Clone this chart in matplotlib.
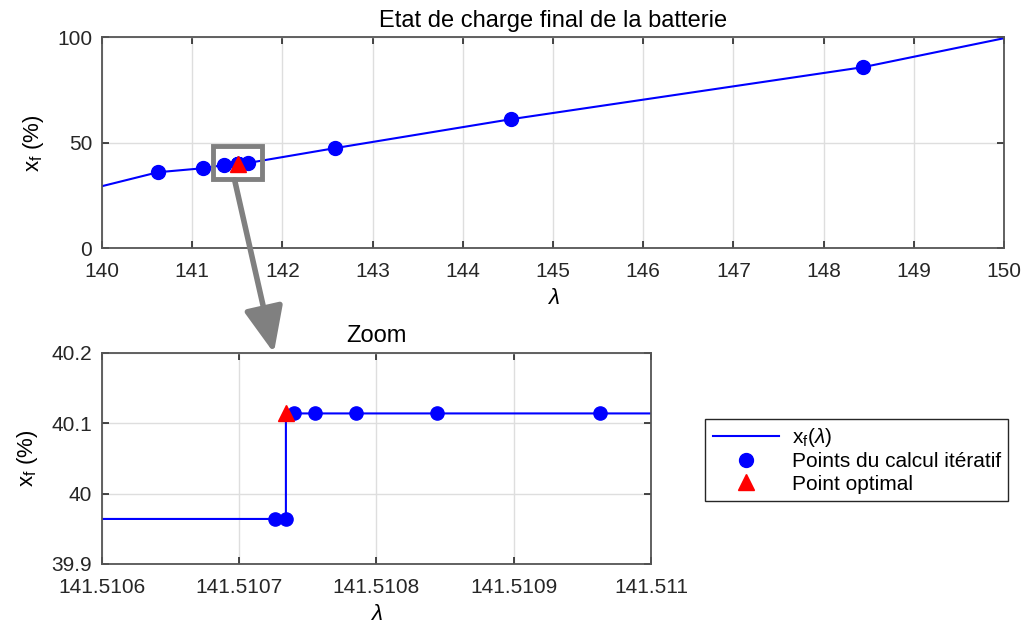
import matplotlib
matplotlib.use("Agg")
from matplotlib import pyplot as plt

plt.rcParams['font.family'] = ['Liberation Sans', 'DejaVu Sans']
plt.rcParams['mathtext.fontset'] = 'custom'
plt.rcParams['mathtext.rm'] = 'Liberation Sans'
plt.rcParams['mathtext.it'] = 'Liberation Sans:italic'

# courbe x_f(lambda)
curve_lam = [140, 140.62, 141.12, 141.35, 141.5106, 141.510734, 141.510734, 141.511, 141.62, 142.58, 144.53, 148.44, 150]
curve_xf = [29.4, 36.0, 37.9, 39.4, 39.964, 39.964, 40.114, 40.114, 40.4, 47.4, 61.1, 85.8, 99.5]

# points du calcul iteratif
iter_lam = [140.62, 141.12, 141.35, 141.62, 142.58, 144.53, 148.44,
            141.510726, 141.510734, 141.51074, 141.510755, 141.510785, 141.510844, 141.510963]
iter_xf = [36.0, 37.9, 39.4, 40.4, 47.4, 61.1, 85.8,
           39.964, 39.964, 40.114, 40.114, 40.114, 40.114, 40.114]

# point optimal
opt_lam = [141.510734]
opt_xf = [40.114]

top_xticks = [140, 141, 142, 143, 144, 145, 146, 147, 148, 149, 150]
top_yticks = [0, 50, 100]
zoom_xticks = [141.5106, 141.5107, 141.5108, 141.5109, 141.511]
zoom_xlabels = ['141.5106', '141.5107', '141.5108', '141.5109', '141.511']
zoom_yticks = [39.9, 40.0, 40.1, 40.2]
zoom_ylabels = ['39.9', '40', '40.1', '40.2']

FS = 15
EDGE = '#262626'
YLAB = r'x$_\mathregular{f}$ (%)'


def style_axes(ax):
    ax.grid(True, color='#dedede', lw=1)
    ax.set_axisbelow(True)
    ax.tick_params(direction='in', top=True, right=True, labelsize=FS,
                   colors=EDGE, length=5, width=1.2, pad=7)
    ax.tick_params(axis='x', pad=10)
    for sp in ax.spines.values():
        sp.set_color('#555555')
        sp.set_linewidth(1.3)


fig = plt.figure(figsize=(10.25, 6.3), dpi=100)
ax1 = fig.add_axes([0.0995, 0.606, 0.880, 0.335])
ax2 = fig.add_axes([0.0995, 0.1048, 0.5356, 0.335])

# graphe principal
ax1.plot(curve_lam, curve_xf, color='#0000ff', lw=1.5, zorder=2)
ax1.plot(iter_lam, iter_xf, 'o', color='#0000ff', ms=10, ls='none', zorder=3)
ax1.plot(opt_lam, opt_xf, '^', color='#ff0000', ms=12, ls='none', zorder=4)
ax1.set_xlim(140, 150)
ax1.set_ylim(0, 100)
ax1.set_xticks(top_xticks)
ax1.set_yticks(top_yticks)
style_axes(ax1)
ax1.set_title("Etat de charge final de la batterie", fontsize=17, color='black', pad=7)
ax1.set_xlabel(r'$\lambda$', fontsize=16, labelpad=5)
ax1.set_ylabel(YLAB, fontsize=16, labelpad=8)

# rectangle de zoom
rect = plt.Rectangle((141.23, 32.7), 0.54, 15.6, fill=False, edgecolor='#808080', lw=3.5, zorder=5)
ax1.add_patch(rect)

# zoom
ax2.plot(curve_lam, curve_xf, color='#0000ff', lw=1.5, zorder=2)
ax2.plot(iter_lam, iter_xf, 'o', color='#0000ff', ms=9.5, ls='none', zorder=3)
ax2.plot(opt_lam, opt_xf, '^', color='#ff0000', ms=12, ls='none', zorder=4)
ax2.set_xlim(141.5106, 141.511)
ax2.set_ylim(39.9, 40.2)
ax2.set_xticks(zoom_xticks)
ax2.set_xticklabels(zoom_xlabels)
ax2.set_yticks(zoom_yticks)
ax2.set_yticklabels(zoom_ylabels)
style_axes(ax2)
ax2.set_title("Zoom", fontsize=17, pad=8)
ax2.set_xlabel(r'$\lambda$', fontsize=16, labelpad=5)
ax2.set_ylabel(YLAB, fontsize=16, labelpad=8)

# fleche vers le zoom
ax1.annotate('', xy=(0.313, 1.0), xycoords=ax2.transAxes,
             xytext=(141.47, 32.4), textcoords='data',
             arrowprops=dict(arrowstyle='-|>,head_width=0.6,head_length=1.4',
                             color='#808080', lw=4, mutation_scale=20,
                             shrinkA=0, shrinkB=0),
             annotation_clip=False, zorder=6)

h_line, = ax2.plot([], [], color='#0000ff', lw=1.5)
h_pts, = ax2.plot([], [], 'o', color='#0000ff', ms=10, ls='none')
h_opt, = ax2.plot([], [], '^', color='#ff0000', ms=12, ls='none')
leg = fig.legend([h_line, h_pts, h_opt],
                 [r'x$_\mathregular{f}$($\lambda$)', 'Points du calcul itératif', 'Point optimal'],
                 loc='center', bbox_to_anchor=(0.836, 0.27), fontsize=15,
                 fancybox=False, edgecolor=EDGE, framealpha=1,
                 handlelength=3.2, labelspacing=0.15, borderpad=0.35, handletextpad=0.6)
leg.get_frame().set_linewidth(1.0)

plt.savefig("out.png", dpi=100)
